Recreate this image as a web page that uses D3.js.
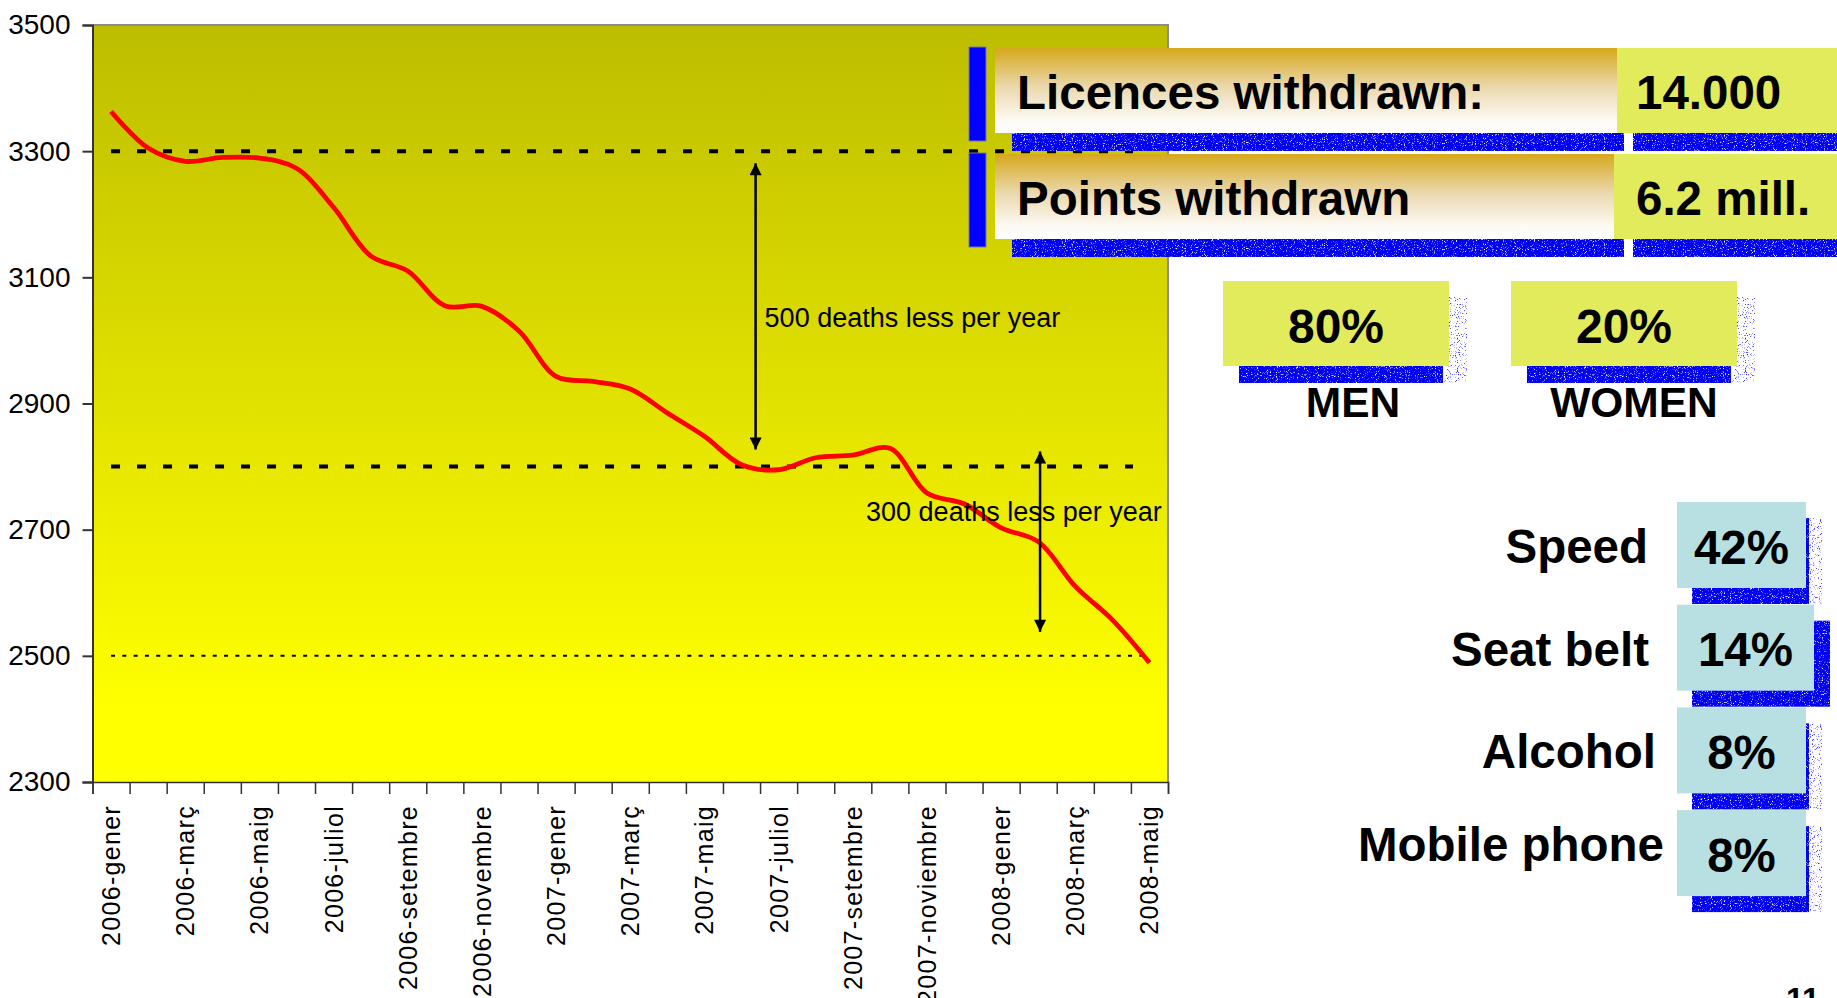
<!DOCTYPE html>
<html>
<head>
<meta charset="utf-8">
<script src="https://cdn.jsdelivr.net/npm/d3@7"></script>
<style>
  body { margin: 0; background: #fff; }
  svg text { font-family: "Liberation Sans", Arial, sans-serif; }
</style>
</head>
<body>
<svg id="area" width="1837" height="998"></svg>
<script>
// monthly 12-month rolling road deaths
const months = [
  "2006-gener","2006-febrer","2006-març","2006-abril","2006-maig","2006-juny",
  "2006-juliol","2006-agost","2006-setembre","2006-octubre","2006-novembre","2006-desembre",
  "2007-gener","2007-febrer","2007-març","2007-abril","2007-maig","2007-juny",
  "2007-juliol","2007-agost","2007-setembre","2007-octubre","2007-noviembre","2007-desembre",
  "2008-gener","2008-febrer","2008-març","2008-abril","2008-maig"
];
const deaths = [
  3363, 3305, 3284, 3290, 3289, 3273, 3211, 3134, 3110, 3055, 3054, 3015,
  2943, 2935, 2923, 2885, 2848, 2803, 2795, 2814, 2818, 2829, 2758, 2741,
  2703, 2681, 2610, 2557, 2489
];
const yTicks = [2300, 2500, 2700, 2900, 3100, 3300, 3500];
const refLevels = [3300, 2800, 2500];
const spanFrom = [3281, 2824];
const spanTo = [2827, 2538];
const spanLabels = ["500 deaths less per year", "300 deaths less per year"];

const headLabels = ["Licences withdrawn:", "Points withdrawn"];
const headValues = ["14.000", "6.2 mill."];
const genderLabels = ["MEN", "WOMEN"];
const genderValues = ["80%", "20%"];
const causeLabels = ["Speed", "Seat belt", "Alcohol", "Mobile phone"];
const causeValues = ["42%", "14%", "8%", "8%"];

const svg = d3.select("#area");
const defs = svg.append("defs");

// plot background gradient
const bg = defs.append("linearGradient").attr("id", "bg").attr("x1", 0).attr("x2", 0).attr("y1", 0).attr("y2", 1);
bg.append("stop").attr("offset", "0%").attr("stop-color", "#bdbd00");
bg.append("stop").attr("offset", "90%").attr("stop-color", "#ffff00");
bg.append("stop").attr("offset", "100%").attr("stop-color", "#ffff00");

const gold = defs.append("linearGradient").attr("id", "gold").attr("x1", 0).attr("x2", 0).attr("y1", 0).attr("y2", 1);
gold.append("stop").attr("offset", "0%").attr("stop-color", "#d6a81a");
gold.append("stop").attr("offset", "45%").attr("stop-color", "#ead7ab");
gold.append("stop").attr("offset", "85%").attr("stop-color", "#fdfaf4");
gold.append("stop").attr("offset", "100%").attr("stop-color", "#ffffff");

defs.html(defs.html() + `
  <filter id="dense" x="0" y="0" width="1" height="1" color-interpolation-filters="sRGB">
    <feTurbulence type="fractalNoise" baseFrequency="0.9" numOctaves="2" seed="4" result="n"/>
    <feColorMatrix in="n" type="matrix" values="0 0 0 0 1  0 0 0 0 1  0 0 0 0 1  5 0 0 0 -2.9" result="w"/>
    <feComposite in="w" in2="SourceGraphic" operator="in" result="wc"/>
    <feMerge><feMergeNode in="SourceGraphic"/><feMergeNode in="wc"/></feMerge>
  </filter>
  <filter id="sparse" x="0" y="0" width="1" height="1" color-interpolation-filters="sRGB">
    <feTurbulence type="fractalNoise" baseFrequency="0.9" numOctaves="2" seed="9" result="n"/>
    <feColorMatrix in="n" type="matrix" values="0 0 0 0 0.2  0 0 0 0 0.2  0 0 0 0 1  6 0 0 0 -3.5" result="b"/>
    <feComposite in="b" in2="SourceGraphic" operator="in"/>
  </filter>
  <marker id="head" viewBox="0 0 10 10" refX="10" refY="5" markerUnits="userSpaceOnUse"
          markerWidth="13" markerHeight="12" orient="auto-start-reverse">
    <path d="M0,0 L10,5 L0,10 z" fill="#000"/>
  </marker>`);

// ---------- line chart ----------
const margin = { top: 25, left: 92.5 };
const width = 1168 - margin.left, height = 782 - margin.top;
const g = svg.append("g").attr("transform", `translate(${margin.left},${margin.top})`);

const x = d3.scaleBand().domain(months).range([0, width]);
const xi = d3.scaleLinear().domain([0, months.length]).range([0, width]);
const y = d3.scaleLinear().domain([2300, 3500]).range([height, 0]);
const cx = m => x(m) + x.bandwidth() / 2;

g.append("rect").attr("width", width).attr("height", height).attr("fill", "url(#bg)");
g.append("path").attr("d", `M0,0H${width}V${height}`).attr("fill", "none").attr("stroke", "#8c8c8c").attr("stroke-width", 2);

const yAxis = g.append("g").call(d3.axisLeft(y).tickValues(yTicks).tickSize(10).tickPadding(12).tickFormat(d3.format("d")));
yAxis.selectAll("text").attr("font-size", 28).attr("fill", "#000").style("font-family", "'Liberation Sans', Arial, sans-serif");
yAxis.selectAll("line,path").attr("stroke", "#333").attr("stroke-width", 2);

g.append("g").attr("transform", `translate(0,${height})`)
  .call(d3.axisBottom(xi).tickValues(d3.range(months.length + 1)).tickSize(12).tickFormat(""))
  .selectAll("line,path").attr("stroke", "#333").attr("stroke-width", 1.5);

const xAxis = g.append("g").attr("transform", `translate(0,${height})`)
  .call(d3.axisBottom(x).tickValues(months.filter((d, i) => i % 2 === 0)).tickSize(0));
xAxis.select(".domain").remove();
xAxis.selectAll("text")
  .attr("transform", "rotate(-90)")
  .attr("x", -23).attr("y", 0).attr("dy", "0.36em")
  .attr("text-anchor", "end")
  .attr("font-size", 25).attr("fill", "#000")
  .style("letter-spacing", "1.3px")
  .style("font-family", "'Liberation Sans', Arial, sans-serif");

// reference levels
const refStyle = [
  { w: 4, dash: "9,17", end: width - 35 },
  { w: 4, dash: "9,17", end: width - 35 },
  { w: 2, dash: "4,7.3", end: width - 23 }
];
g.selectAll(".ref").data(refLevels).join("line").attr("class", "ref")
  .attr("x1", cx(months[0])).attr("x2", (d, i) => refStyle[i].end)
  .attr("y1", d => y(d)).attr("y2", d => y(d))
  .attr("stroke", "#000").attr("stroke-width", (d, i) => refStyle[i].w)
  .attr("stroke-dasharray", (d, i) => refStyle[i].dash);

// deaths line
g.append("path").datum(deaths)
  .attr("fill", "none").attr("stroke", "#ff0000").attr("stroke-width", 4.8).attr("stroke-linejoin", "round")
  .attr("d", d3.line().x((d, i) => cx(months[i])).y(d => y(d)).curve(d3.curveCatmullRom.alpha(0.5)));

// arrows with labels
const spanX = [xi(17.88), xi(25.55)];
const labelDx = [9, -174];
const labelAt = [3021, 2714];
spanLabels.forEach((lab, i) => {
  g.append("line").attr("x1", spanX[i]).attr("x2", spanX[i])
    .attr("y1", y(spanFrom[i])).attr("y2", y(spanTo[i]))
    .attr("stroke", "#000").attr("stroke-width", 2.5)
    .attr("marker-start", "url(#head)").attr("marker-end", "url(#head)");
  g.append("text").attr("x", spanX[i] + labelDx[i]).attr("y", y(labelAt[i]))
    .attr("font-size", 27).attr("fill", "#000").text(lab);
});

// ---------- headline panel ----------
const head = svg.append("g").selectAll("g").data(headLabels).join("g")
  .attr("transform", (d, i) => `translate(0,${48 + i * 106})`);
head.append("rect").attr("x", 969).attr("y", -1).attr("width", 17).attr("height", 94)
  .attr("fill", "#0000ff").attr("stroke", "#7777aa").attr("stroke-width", 1);
head.append("rect").attr("x", 1012).attr("y", 18).attr("width", 612).attr("height", 85)
  .attr("fill", "#0000f4").attr("filter", "url(#dense)");
head.append("rect").attr("x", 1633).attr("y", 18).attr("width", 204).attr("height", 85)
  .attr("fill", "#0000f4").attr("filter", "url(#dense)");
head.append("rect").attr("x", 995).attr("y", 0).attr("width", (d, i) => i ? 619 : 622).attr("height", 85)
  .attr("fill", "url(#gold)");
head.append("rect").attr("x", (d, i) => i ? 1614 : 1617).attr("y", 0).attr("width", 230).attr("height", 85)
  .attr("fill", "#e1eb5b");
head.append("text").attr("x", 1017).attr("y", 60.5).attr("font-size", 47.5).attr("font-weight", "bold")
  .text(d => d);
head.append("text").attr("x", 1636).attr("y", 60.5).attr("font-size", 47.5).attr("font-weight", "bold")
  .text((d, i) => headValues[i]);

// ---------- gender panel ----------
const gen = svg.append("g").selectAll("g").data(genderLabels).join("g")
  .attr("transform", (d, i) => `translate(${1223 + i * 288},281)`);
gen.append("rect").attr("x", 220).attr("y", 16).attr("width", 24).attr("height", 86)
  .attr("fill", "#0000ff").attr("filter", "url(#sparse)");
gen.append("rect").attr("x", 16).attr("y", 16).attr("width", 204).attr("height", 86)
  .attr("fill", "#0000f4").attr("filter", "url(#dense)");
gen.append("rect").attr("width", 226).attr("height", 85).attr("fill", "#e1eb5b");
gen.append("text").attr("x", 113).attr("y", 62).attr("text-anchor", "middle")
  .attr("font-size", 48).attr("font-weight", "bold").text((d, i) => genderValues[i]);
gen.append("text").attr("x", (d, i) => i ? 123 : 130).attr("y", 136).attr("text-anchor", "middle")
  .attr("font-size", 42.5).attr("font-weight", "bold").text(d => d);

// ---------- causes panel ----------
const shadowW = [117, 138, 117, 117];
const speckW = [13, 0, 13, 13];
const labelEnd = [-29, -28, -21, -13];
const cause = svg.append("g").selectAll("g").data(causeLabels).join("g")
  .attr("transform", (d, i) => `translate(1677,${502 + i * 102.7})`);
cause.append("rect").attr("x", (d, i) => 15 + shadowW[i]).attr("y", 16)
  .attr("width", (d, i) => speckW[i]).attr("height", 86)
  .attr("fill", "#0000ff").attr("filter", "url(#sparse)");
cause.append("rect").attr("x", 15).attr("y", 16).attr("width", (d, i) => shadowW[i]).attr("height", 86)
  .attr("fill", "#0000f4").attr("filter", "url(#dense)");
cause.append("rect").attr("width", (d, i) => i === 1 ? 137 : 129).attr("height", 86).attr("fill", "#b8dfe2");
cause.append("text").attr("x", (d, i) => i === 1 ? 68.5 : 64.5).attr("y", 61.5).attr("text-anchor", "middle")
  .attr("font-size", 47.5).attr("font-weight", "bold").text((d, i) => causeValues[i]);
cause.append("text").attr("x", (d, i) => labelEnd[i]).attr("y", (d, i) => i === 3 ? 51 : 61).attr("text-anchor", "end")
  .attr("font-size", 47.5).attr("font-weight", "bold").text(d => d);

// page number, cut by the bottom edge as in the slide
svg.append("text").attr("x", 1786).attr("y", 1010).attr("font-size", 32).attr("font-weight", "bold").text("11");
</script>
</body>
</html>
